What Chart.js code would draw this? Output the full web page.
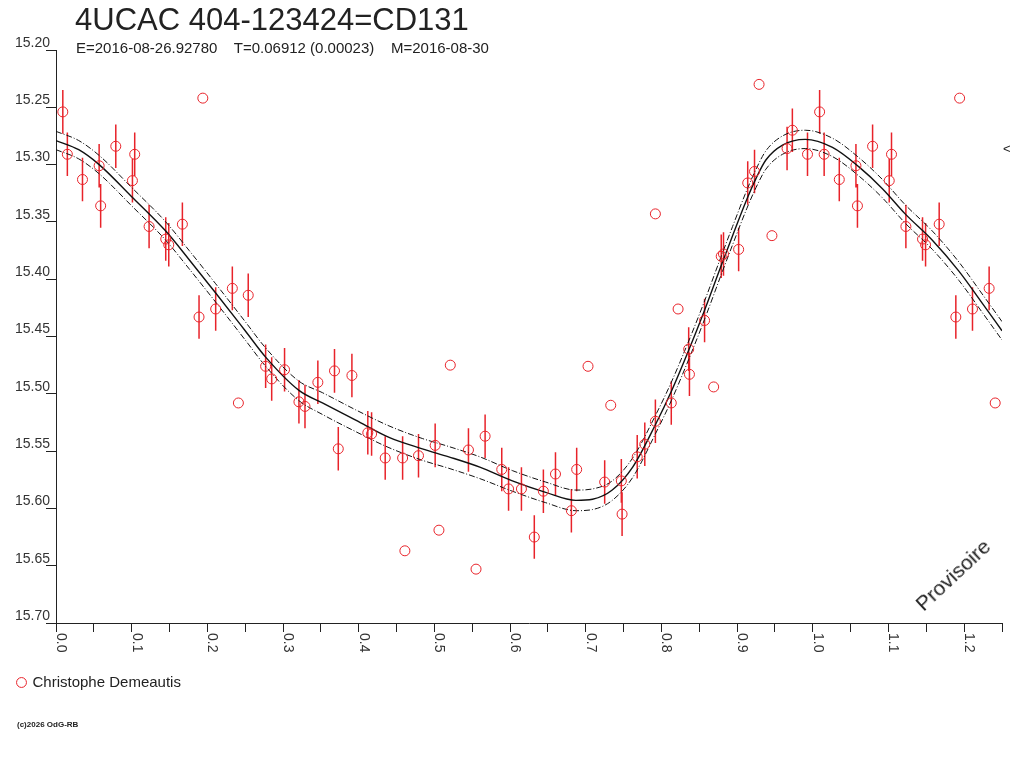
<!DOCTYPE html>
<html>
<head>
<meta charset="utf-8">
<title>4UCAC 404-123424=CD131</title>
<script src="https://cdn.jsdelivr.net/npm/chart.js@4.4.1/dist/chart.umd.min.js"></script>
<style>
  html, body { margin: 0; padding: 0; background: #fff; }
  #page { position: relative; width: 1024px; height: 768px; overflow: hidden;
          font-family: "Liberation Sans", Arial, sans-serif; color: #222; }
  #zone { position: absolute; left: 0; top: 0; width: 1024px; height: 768px; }
  .txt { position: absolute; white-space: pre; }
  #titre { left: 75px; top: 2px; font-size: 31px; line-height: 35px; }
  #sous { left: 76px; top: 40px; font-size: 15px; line-height: 16px; }
  #provisoire { left: 893px; top: 563px; width: 120px; height: 24px; font-size: 21px; line-height: 24px;
                text-align: center; transform: rotate(-43deg); }
  #fleche { left: 1003px; top: 142px; font-size: 13px; line-height: 14px; }
  #copy { left: 17px; top: 720px; font-size: 8px; line-height: 10px; font-weight: bold; }
</style>
</head>
<body>
<div id="page">
  <div id="zone"><canvas id="courbeLumiere"></canvas></div>
  <div class="txt" id="titre">4UCAC 404-123424=CD131</div>
  <div class="txt" id="sous">E=2016-08-26.92780    T=0.06912 (0.00023)    M=2016-08-30</div>
  <div class="txt" id="provisoire">Provisoire</div>
  <div class="txt" id="fleche">&lt;</div>
  <div class="txt" id="copy">(c)2026 OdG-RB</div>
</div>
<script>
// Mesures (phase, magnitude, barre d'erreur ; 0 = pas de barre)
const phases = [
  0.009, 0.015, 0.035, 0.057, 0.059, 0.079, 0.104, 0.101, 0.123, 0.145, 0.149, 0.167, 0.194, 0.189, 0.211, 0.233, 0.254, 0.241,
  0.277, 0.285, 0.302, 0.321, 0.329, 0.346, 0.368, 0.391, 0.373, 0.412, 0.417, 0.435, 0.458, 0.479, 0.501, 0.521,
  0.703, 0.733, 0.545, 0.567, 0.589, 0.598, 0.615, 0.644, 0.660, 0.688, 0.681, 0.632, 0.725, 0.747, 0.748, 0.768,
  0.506, 0.461, 0.555, 0.792, 0.946, 0.879, 0.882, 0.902, 0.822, 0.857, 0.836, 0.837, 0.869, 0.813, 0.792, 0.778,
  0.929, 0.973, 0.966, 0.993, 0.914, 0.923,
  1.009, 1.015, 1.035, 1.057, 1.059, 1.079, 1.104, 1.101, 1.123, 1.145, 1.149, 1.167, 1.194, 1.189, 1.211, 1.233, 1.241
];
const mags = [
  15.254, 15.291, 15.313, 15.301, 15.336, 15.284, 15.291, 15.314, 15.354, 15.365, 15.370, 15.352, 15.242, 15.433, 15.426, 15.408, 15.414, 15.508,
  15.476, 15.487, 15.479, 15.507, 15.511, 15.490, 15.480, 15.484, 15.548, 15.534, 15.535, 15.556, 15.556, 15.554, 15.545, 15.475,
  15.476, 15.510, 15.549, 15.537, 15.566, 15.583, 15.583, 15.585, 15.570, 15.566, 15.602, 15.625, 15.577, 15.576, 15.605, 15.555,
  15.619, 15.637, 15.653, 15.343, 15.362, 15.380, 15.378, 15.374, 15.426, 15.436, 15.461, 15.483, 15.494, 15.508, 15.524, 15.544,
  15.230, 15.270, 15.286, 15.291, 15.316, 15.306,
  15.254, 15.291, 15.313, 15.301, 15.336, 15.284, 15.291, 15.314, 15.354, 15.365, 15.370, 15.352, 15.242, 15.433, 15.426, 15.408, 15.508
];
const errs = [
  0.019, 0.019, 0.019, 0.019, 0.019, 0.019, 0.019, 0.019, 0.019, 0.019, 0.019, 0.019, 0, 0.019, 0.019, 0.019, 0.019, 0,
  0.019, 0.019, 0.019, 0.019, 0.019, 0.019, 0.019, 0.019, 0.019, 0.019, 0.019, 0.019, 0.019, 0.019, 0.019, 0,
  0, 0, 0.019, 0.019, 0.019, 0.019, 0.019, 0.019, 0.019, 0.019, 0.019, 0.019, 0.019, 0.019, 0.019, 0.019,
  0, 0, 0, 0, 0, 0.019, 0.019, 0.019, 0, 0.019, 0.019, 0.019, 0, 0.019, 0.019, 0.019,
  0, 0.019, 0.019, 0.019, 0.019, 0.019,
  0.019, 0.019, 0.019, 0.019, 0.019, 0.019, 0.019, 0.019, 0.019, 0.019, 0.019, 0.019, 0, 0.019, 0.019, 0.019, 0
];

// Courbe ajustee et son enveloppe
const fitPhase = [0.000, 0.030, 0.057, 0.100, 0.145, 0.176, 0.211, 0.250, 0.277, 0.321, 0.352, 0.396, 0.440, 0.484,
  0.519, 0.560, 0.603, 0.647, 0.687, 0.709, 0.735, 0.762, 0.792, 0.813, 0.836, 0.857, 0.879, 0.894, 0.913, 0.925,
  0.938, 0.960, 0.990, 1.026, 1.061, 1.092, 1.122, 1.158, 1.193, 1.225, 1.250];
const fitMag = [15.279, 15.287, 15.300, 15.328, 15.358, 15.383, 15.412, 15.445, 15.468, 15.497, 15.508, 15.523, 15.538, 15.548,
  15.555, 15.564, 15.576, 15.586, 15.593, 15.592, 15.584, 15.564, 15.527, 15.498, 15.462, 15.427, 15.388, 15.362, 15.330, 15.312,
  15.296, 15.283, 15.278, 15.285, 15.302, 15.321, 15.343, 15.366, 15.393, 15.422, 15.445];
const fitHaut = [15.271, 15.279, 15.292, 15.320, 15.350, 15.375, 15.404, 15.437, 15.460, 15.489, 15.499, 15.514, 15.528, 15.539,
  15.546, 15.555, 15.567, 15.577, 15.584, 15.583, 15.576, 15.556, 15.519, 15.490, 15.454, 15.419, 15.380, 15.354, 15.322, 15.304,
  15.288, 15.275, 15.270, 15.277, 15.294, 15.313, 15.335, 15.358, 15.385, 15.414, 15.437];
const fitBas = [15.287, 15.295, 15.308, 15.336, 15.366, 15.391, 15.420, 15.453, 15.476, 15.506, 15.518, 15.533, 15.547, 15.558,
  15.565, 15.574, 15.585, 15.595, 15.602, 15.601, 15.593, 15.573, 15.535, 15.506, 15.470, 15.435, 15.396, 15.370, 15.338, 15.320,
  15.304, 15.291, 15.286, 15.293, 15.310, 15.329, 15.351, 15.374, 15.401, 15.430, 15.453];

// Graduations
const yTicks = [15.20, 15.25, 15.30, 15.35, 15.40, 15.45, 15.50, 15.55, 15.60, 15.65, 15.70];
const yLabels = ['15.20', '15.25', '15.30', '15.35', '15.40', '15.45', '15.50', '15.55', '15.60', '15.65', '15.70'];
const xTicks = [0, 0.05, 0.1, 0.15, 0.2, 0.25, 0.3, 0.35, 0.4, 0.45, 0.5, 0.55, 0.6, 0.65, 0.7, 0.75, 0.8, 0.85,
  0.9, 0.95, 1.0, 1.05, 1.1, 1.15, 1.2, 1.25];
const xLabelValues = [0, 0.1, 0.2, 0.3, 0.4, 0.5, 0.6, 0.7, 0.8, 0.9, 1.0, 1.1, 1.2];
const xLabels = ['0.0', '0.1', '0.2', '0.3', '0.4', '0.5', '0.6', '0.7', '0.8', '0.9', '1.0', '1.1', '1.2'];

const rouge = '#e8232a';
const police = '"Liberation Sans", Arial, sans-serif';

const obs = phases.map((p, i) => ({ x: p, y: mags[i], err: errs[i] }));
const toXY = arr => fitPhase.map((p, i) => ({ x: p, y: arr[i] }));

// Barres d'erreur verticales
const barresErreur = {
  id: 'barresErreur',
  beforeDatasetsDraw(chart) {
    const { ctx, scales: { x, y } } = chart;
    ctx.save();
    ctx.strokeStyle = rouge;
    ctx.lineWidth = 1.5;
    ctx.beginPath();
    obs.forEach(p => {
      if (!p.err) return;
      const px = x.getPixelForValue(p.x);
      ctx.moveTo(px, y.getPixelForValue(p.y - p.err));
      ctx.lineTo(px, y.getPixelForValue(p.y + p.err));
    });
    ctx.stroke();
    ctx.restore();
  }
};

// Etiquettes de l'axe des phases, tournees de 90 degres
const etiquettesX = {
  id: 'etiquettesX',
  afterDraw(chart) {
    const { ctx, scales: { x } } = chart;
    ctx.save();
    ctx.font = '14px ' + police;
    ctx.fillStyle = '#333';
    ctx.textAlign = 'left';
    ctx.textBaseline = 'alphabetic';
    xLabelValues.forEach((v, i) => {
      ctx.save();
      ctx.translate(x.getPixelForValue(v) + 1, x.top + 10);
      ctx.rotate(Math.PI / 2);
      ctx.fillText(xLabels[i], 0, 0);
      ctx.restore();
    });
    ctx.restore();
  }
};

const config = {
  type: 'scatter',
  data: {
    datasets: [
      {
        label: 'Christophe Demeautis',
        data: obs,
        pointStyle: 'circle',
        pointRadius: 5,
        pointHoverRadius: 5,
        borderWidth: 1,
        borderColor: rouge,
        backgroundColor: 'rgba(255,255,255,0)',
        order: 0
      },
      {
        type: 'line', label: 'fit', data: toXY(fitMag),
        borderColor: '#111', borderWidth: 1.4, pointRadius: 0, fill: false,
        cubicInterpolationMode: 'monotone', order: 1
      },
      {
        type: 'line', label: 'haut', data: toXY(fitHaut),
        borderColor: '#111', borderWidth: 1, borderDash: [6, 2, 1, 2], pointRadius: 0, fill: false,
        cubicInterpolationMode: 'monotone', order: 1
      },
      {
        type: 'line', label: 'bas', data: toXY(fitBas),
        borderColor: '#111', borderWidth: 1, borderDash: [6, 2, 1, 2], pointRadius: 0, fill: false,
        cubicInterpolationMode: 'monotone', order: 1
      }
    ]
  },
  options: {
    responsive: true,
    maintainAspectRatio: false,
    animation: false,
    events: [],
    layout: { padding: { left: 8, right: 22, top: 50, bottom: 68 } },
    scales: {
      x: {
        type: 'linear', min: 0, max: 1.25,
        afterBuildTicks: s => { s.ticks = xTicks.map(v => ({ value: v })); },
        afterFit: s => {
          const lh = s.chart.legend ? s.chart.legend.height : 35;
          s.height = 768 - 68 - lh - 623;
        },
        border: { display: true, color: '#222', width: 1 },
        grid: { display: true, drawOnChartArea: false, drawTicks: true, tickLength: 9, tickColor: '#222', tickWidth: 1 },
        ticks: { display: false }
      },
      y: {
        type: 'linear', reverse: true, min: 15.2, max: 15.7,
        afterBuildTicks: s => { s.ticks = yTicks.map(v => ({ value: v })); },
        afterFit: s => { s.width = 48; },
        border: { display: true, color: '#222', width: 1 },
        grid: { display: true, drawOnChartArea: false, drawTicks: true, tickLength: 10, tickColor: '#222', tickWidth: 1 },
        ticks: {
          callback: (v, i) => yLabels[i],
          color: '#333',
          font: { family: police, size: 14 },
          padding: -4,
          labelOffset: -7
        }
      }
    },
    plugins: {
      tooltip: { enabled: false },
      legend: {
        position: 'bottom',
        align: 'start',
        labels: {
          usePointStyle: true,
          boxWidth: 7,
          boxHeight: 7,
          padding: 10,
          color: '#222',
          font: { family: police, size: 15 },
          filter: item => item.datasetIndex === 0
        }
      }
    }
  },
  plugins: [barresErreur, etiquettesX]
};

window.addEventListener('DOMContentLoaded', () => {
  const canvas = document.getElementById('courbeLumiere');
  new Chart(canvas.getContext('2d'), config);
});
</script>
</body>
</html>
